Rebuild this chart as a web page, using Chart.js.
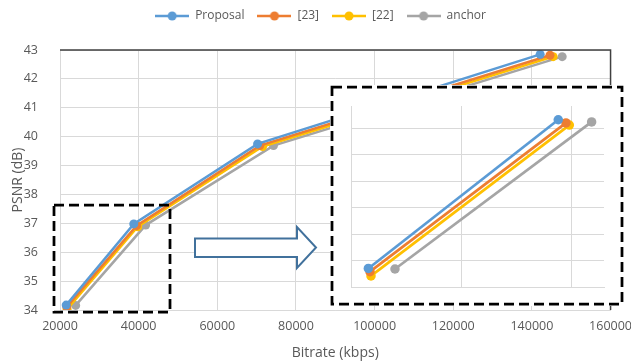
<!DOCTYPE html>
<html><head><meta charset="utf-8">
<script src="https://cdn.jsdelivr.net/npm/chart.js@4"></script>
<style>
html,body{margin:0;padding:0;background:#fff;overflow:hidden;}
#wrap{position:relative;width:631px;height:364px;overflow:hidden;}
#main{position:absolute;left:0;top:0;}
#inset{position:absolute;left:330px;top:85px;background:#fff;}
</style></head><body>
<div id="wrap">
<canvas id="main" width="641" height="364"></canvas>
<canvas id="inset" width="294" height="221"></canvas>
</div>
<script>
// ---- data ----
const seriesNames = ['Proposal', '[23]', '[22]', 'anchor'];
const seriesColors = ['#5b9bd5', '#ed7d31', '#ffc000', '#a5a5a5'];
const proposalBitrate = [21570, 38760, 70240, 142100];
const proposalPsnr    = [34.17, 36.98, 39.75, 42.85];
const ref23Bitrate    = [21720, 39460, 70800, 144600];
const ref23Psnr       = [34.11, 36.92, 39.69, 42.82];
const ref22Bitrate    = [21810, 39760, 71520, 145400];
const ref22Psnr       = [34.03, 36.88, 39.66, 42.77];
const anchorBitrate   = [23980, 41780, 74290, 147700];
const anchorPsnr      = [34.16, 36.94, 39.69, 42.77];
const xTicks = [20000, 40000, 60000, 80000, 100000, 120000, 140000, 160000];
const yTicks = [34, 35, 36, 37, 38, 39, 40, 41, 42, 43];
const insetPointCount = 2;
const insetXRange = [20000, 42900];
const insetYRange = [33.82, 37.24];
const insetXTicks = [20000, 30000, 40000];
const insetYTicks = [33.82, 34.32, 34.82, 35.32, 35.82, 36.32, 36.82];
const xTitle = 'Bitrate (kbps)';
const yTitle = 'PSNR (dB)';

const allBitrate = [proposalBitrate, ref23Bitrate, ref22Bitrate, anchorBitrate];
const allPsnr = [proposalPsnr, ref23Psnr, ref22Psnr, anchorPsnr];

const FONT = 'Open Sans';
const TXT = '#595959';
const GRID = '#d9d9d9';

function pts(bx, py, n) {
  return bx.slice(0, n).map((x, i) => ({x: x, y: py[i]}));
}

function legendImage(color) {
  const c = document.createElement('canvas');
  c.width = 34; c.height = 12;
  const g = c.getContext('2d');
  g.strokeStyle = color; g.lineWidth = 2.5;
  g.beginPath(); g.moveTo(0, 6); g.lineTo(34, 6); g.stroke();
  g.fillStyle = color;
  g.beginPath(); g.arc(17, 6, 4.5, 0, Math.PI * 2); g.fill();
  return c;
}
const legendImgs = seriesColors.map(legendImage);

const mainDatasets = seriesNames.map((name, i) => ({
  label: name,
  data: pts(allBitrate[i], allPsnr[i], allBitrate[i].length),
  borderColor: seriesColors[i],
  backgroundColor: seriesColors[i],
  pointBackgroundColor: seriesColors[i],
  pointBorderColor: seriesColors[i],
  borderWidth: 2.5,
  pointRadius: 4.5,
  pointBorderWidth: 0,
  tension: 0
}));

const legendPad = {
  id: 'legendPad',
  beforeInit(chart) {
    const f = chart.legend.fit;
    chart.legend.fit = function () { f.call(this); this.height += 15; };
  },
  afterLayout(chart) {
    chart.legend.top -= 3;
    chart.legend.bottom -= 3;
  }
};

const decor = {
  id: 'decor',
  afterDraw(chart) {
    const ctx = chart.ctx;
    const a = chart.chartArea;
    ctx.save();
    // plot frame top / right
    ctx.strokeStyle = '#404040';
    ctx.lineWidth = 1.5;
    ctx.beginPath();
    ctx.moveTo(a.left, a.top);
    ctx.lineTo(a.right, a.top);
    ctx.lineTo(a.right, a.bottom);
    ctx.stroke();
    // dashed zoom box
    ctx.strokeStyle = '#000';
    ctx.lineWidth = 2.75;
    ctx.setLineDash([10, 5]);
    ctx.strokeRect(54, 205, 116, 107);
    ctx.setLineDash([]);
    // arrow
    ctx.beginPath();
    ctx.moveTo(195, 238.5);
    ctx.lineTo(297, 238.5);
    ctx.lineTo(297, 227);
    ctx.lineTo(316, 247.5);
    ctx.lineTo(297, 268);
    ctx.lineTo(297, 257);
    ctx.lineTo(195, 257);
    ctx.closePath();
    ctx.fillStyle = '#fff';
    ctx.fill();
    ctx.strokeStyle = '#41719c';
    ctx.lineWidth = 2;
    ctx.stroke();
    ctx.restore();
  }
};

new Chart(document.getElementById('main'), {
  type: 'line',
  data: { datasets: mainDatasets },
  plugins: [legendPad, decor],
  options: {
    responsive: false,
    animation: false,
    devicePixelRatio: 1,
    layout: { padding: { left: 0, right: 0, top: 0, bottom: 0 } },
    plugins: {
      tooltip: { enabled: false },
      legend: {
        position: 'top',
        labels: {
          usePointStyle: true,
          pointStyleWidth: 34,
          padding: 13,
          color: TXT,
          font: { family: FONT, size: 12 },
          generateLabels(chart) {
            return Chart.defaults.plugins.legend.labels.generateLabels(chart).map(it => {
              it.pointStyle = legendImgs[it.datasetIndex];
              it.fontColor = TXT;
              return it;
            });
          }
        }
      }
    },
    scales: {
      x: {
        type: 'linear',
        min: xTicks[0], max: xTicks[xTicks.length - 1],
        afterBuildTicks: s => { s.ticks = xTicks.map(v => ({ value: v })); },
        afterFit: s => { s.height = 54; },
        ticks: { padding: 9, maxRotation: 0, autoSkip: false, color: TXT, font: { family: FONT, size: 12.5 }, callback: v => String(v) },
        grid: { color: GRID, drawTicks: false },
        border: { color: GRID },
        title: { display: true, text: xTitle, color: TXT, font: { family: FONT, size: 14 }, padding: { top: 0, bottom: 3 } }
      },
      y: {
        type: 'linear',
        min: yTicks[0], max: yTicks[yTicks.length - 1],
        afterBuildTicks: s => { s.ticks = yTicks.map(v => ({ value: v })); },
        afterFit: s => { s.width = 60; },
        ticks: { padding: 22, color: TXT, font: { family: FONT, size: 12.5 }, callback: v => String(v) },
        grid: { color: GRID, drawTicks: false },
        border: { color: GRID },
        title: { display: true, text: yTitle, color: TXT, font: { family: FONT, size: 14 }, padding: { top: 10, bottom: 0 } }
      }
    }
  }
});

// ---- inset (zoom of low-bitrate segment) ----
const insetDatasets = seriesNames.map((name, i) => ({
  label: name,
  data: pts(allBitrate[i], allPsnr[i], insetPointCount),
  borderColor: seriesColors[i],
  backgroundColor: seriesColors[i],
  pointBackgroundColor: seriesColors[i],
  pointBorderColor: seriesColors[i],
  borderWidth: 2.75,
  pointRadius: 4.75,
  pointBorderWidth: 0,
  tension: 0
}));

const insetFrame = {
  id: 'insetFrame',
  afterDraw(chart) {
    const ctx = chart.ctx;
    ctx.save();
    ctx.strokeStyle = '#000';
    ctx.lineWidth = 2.75;
    ctx.setLineDash([10, 5]);
    ctx.strokeRect(2, 2, chart.width - 4, chart.height - 4);
    ctx.restore();
  }
};

new Chart(document.getElementById('inset'), {
  type: 'line',
  data: { datasets: insetDatasets },
  plugins: [insetFrame],
  options: {
    responsive: false,
    animation: false,
    devicePixelRatio: 1,
    layout: { padding: { left: 21, right: 20, top: 21, bottom: 19 } },
    plugins: { legend: { display: false }, tooltip: { enabled: false } },
    scales: {
      x: {
        type: 'linear', min: insetXRange[0], max: insetXRange[1],
        afterBuildTicks: s => { s.ticks = insetXTicks.map(v => ({ value: v })); },
        afterFit: s => { s.height = 0; },
        ticks: { display: false },
        grid: { color: GRID, drawTicks: false },
        border: { color: GRID }
      },
      y: {
        type: 'linear', min: insetYRange[0], max: insetYRange[1],
        afterBuildTicks: s => { s.ticks = insetYTicks.map(v => ({ value: v })); },
        afterFit: s => { s.width = 0; },
        ticks: { display: false },
        grid: { color: GRID, drawTicks: false },
        border: { color: GRID }
      }
    }
  }
});
</script>
</body></html>
